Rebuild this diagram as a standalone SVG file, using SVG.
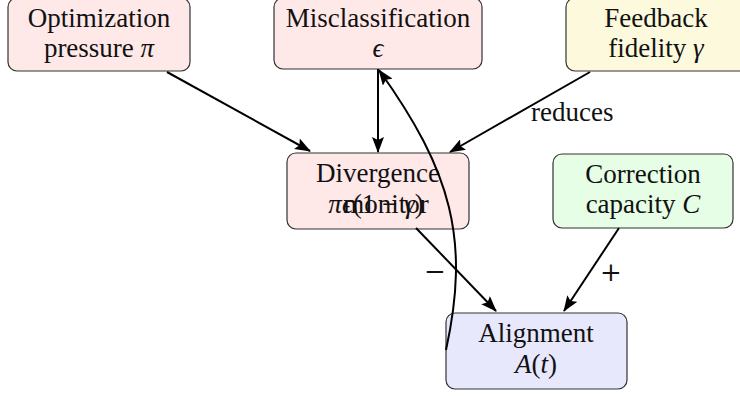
<svg xmlns="http://www.w3.org/2000/svg" width="740" height="396" viewBox="0 0 740 396">
<defs>
<marker id="ah" viewBox="0 0 16 12" refX="15" refY="6" markerWidth="16" markerHeight="12" markerUnits="userSpaceOnUse" orient="auto">
<path d="M0,0 L16,6 L0,12 L3,6 z" fill="#000"/>
</marker>
<style>
.box{stroke:#333;stroke-width:1.2}
.t{font-family:"Liberation Serif","DejaVu Serif",serif;font-size:27px;fill:#111;text-anchor:middle}
.m{font-style:italic}
.e{fill:none;stroke:#000;stroke-width:2;marker-end:url(#ah)}
.lbl{font-family:"Liberation Serif","DejaVu Serif",serif;font-size:27px;fill:#111}
.sg{font-family:"DejaVu Serif",serif;font-size:26px;fill:#111;text-anchor:middle}
</style>
</defs>
<rect width="740" height="396" fill="#fff"/>
<g id="optimization">
<rect class="box" x="8" y="-2" width="182" height="73" rx="9" fill="#ffe8e8"/>
<text class="t" x="99" y="27">Optimization</text>
<text class="t" x="99" y="57">pressure <tspan class="m">π</tspan></text>
</g>
<g id="misclassification">
<rect class="box" x="274" y="-2" width="208" height="71" rx="9" fill="#ffe8e8"/>
<text class="t" x="378" y="27">Misclassification</text>
<text class="t m" x="378" y="57">ϵ</text>
</g>
<g id="feedback">
<rect class="box" x="566" y="-2" width="182" height="73" rx="9" fill="#fdf9dc"/>
<text class="t" x="656" y="27">Feedback</text>
<text class="t" x="656" y="57">fidelity <tspan class="m">γ</tspan></text>
</g>
<g id="divergence">
<rect class="box" x="287" y="153" width="182" height="76" rx="9" fill="#ffe8e8"/>
<text class="t" x="378" y="182">Divergence</text>
<text class="t" x="386" y="213">monitor</text>
<text class="t" x="376" y="213"><tspan class="m">πϵ</tspan>(1 − <tspan class="m">γ</tspan>)</text>
</g>
<g id="correction">
<rect class="box" x="553" y="154" width="180" height="74" rx="9" fill="#e6fde6"/>
<text class="t" x="643" y="183">Correction</text>
<text class="t" x="643" y="213">capacity <tspan class="m">C</tspan></text>
</g>
<g id="alignment">
<rect class="box" x="446" y="313" width="181" height="76" rx="9" fill="#e8e8fd"/>
<text class="t" x="536" y="342">Alignment</text>
<text class="t" x="536" y="373"><tspan class="m">A</tspan>(<tspan class="m">t</tspan>)</text>
</g>
<g id="connectors">
<path class="e" d="M167,72 L310,151"/>
<path class="e" d="M378,69 L378,152"/>
<path class="e" d="M590,72 L450,152"/>
<path class="e" d="M416,228 L496,311"/>
<path class="e" d="M619,228 L564,311"/>
<path class="e" d="M446,350 C470,240 452,172 379,70"/>
<text class="lbl" x="531" y="121">reduces</text>
<text class="sg" x="435" y="280">−</text>
<text class="sg" x="611" y="281">+</text>
</g>
</svg>
